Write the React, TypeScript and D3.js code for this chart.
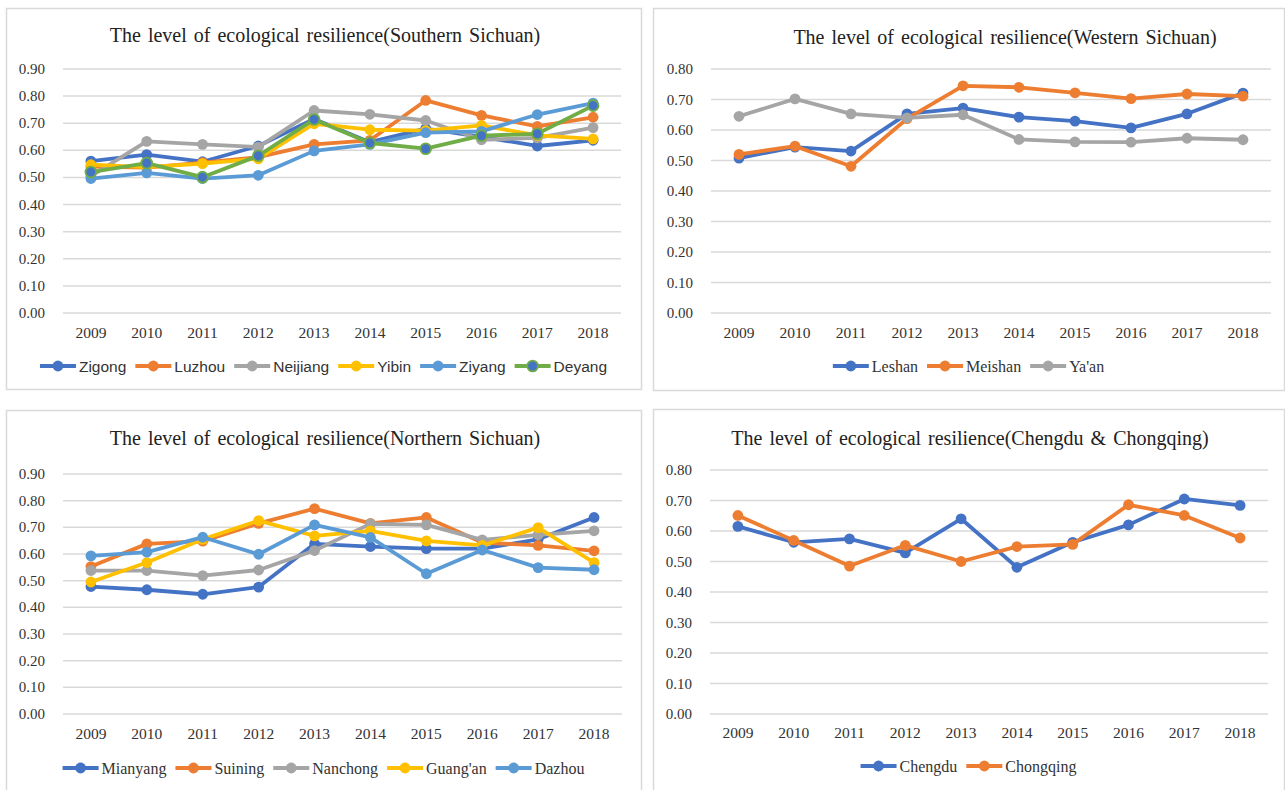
import React from 'react';
import * as d3 from 'd3';

const YEARS = ['2009', '2010', '2011', '2012', '2013', '2014', '2015', '2016', '2017', '2018'];

// Southern Sichuan
const zigong = [0.56, 0.584, 0.558, 0.616, 0.716, 0.63, 0.68, 0.65, 0.616, 0.637];
const luzhou = [0.54, 0.536, 0.555, 0.575, 0.622, 0.637, 0.784, 0.729, 0.688, 0.722];
const neijiang = [0.505, 0.633, 0.622, 0.612, 0.747, 0.733, 0.71, 0.639, 0.646, 0.684];
const yibin = [0.547, 0.538, 0.551, 0.569, 0.698, 0.676, 0.673, 0.692, 0.655, 0.642];
const ziyang = [0.496, 0.517, 0.496, 0.508, 0.598, 0.622, 0.665, 0.67, 0.732, 0.774];
const deyang = [0.52, 0.553, 0.501, 0.58, 0.714, 0.627, 0.606, 0.654, 0.661, 0.765];

// Western Sichuan
const leshan = [0.508, 0.544, 0.531, 0.653, 0.672, 0.642, 0.629, 0.607, 0.653, 0.721];
const meishan = [0.52, 0.547, 0.481, 0.637, 0.745, 0.74, 0.722, 0.703, 0.718, 0.711];
const yaan = [0.645, 0.702, 0.653, 0.64, 0.65, 0.569, 0.561, 0.56, 0.573, 0.568];

// Northern Sichuan
const mianyang = [0.478, 0.466, 0.449, 0.476, 0.638, 0.628, 0.62, 0.62, 0.655, 0.737];
const suining = [0.553, 0.638, 0.648, 0.715, 0.77, 0.715, 0.737, 0.643, 0.632, 0.612];
const nanchong = [0.538, 0.538, 0.519, 0.54, 0.613, 0.713, 0.709, 0.653, 0.672, 0.687];
const guangan = [0.495, 0.568, 0.655, 0.725, 0.668, 0.687, 0.649, 0.632, 0.699, 0.568];
const dazhou = [0.593, 0.607, 0.663, 0.599, 0.709, 0.662, 0.526, 0.615, 0.549, 0.541];

// Chengdu & Chongqing
const chengdu = [0.615, 0.563, 0.574, 0.528, 0.64, 0.481, 0.563, 0.62, 0.705, 0.684];
const chongqing = [0.651, 0.569, 0.485, 0.553, 0.5, 0.549, 0.556, 0.686, 0.651, 0.577];

const BLUE = '#4472C4';
const ORANGE = '#ED7D31';
const GRAY = '#A5A5A5';
const YELLOW = '#FFC000';
const LIGHTBLUE = '#5B9BD5';
const GREEN = '#70AD47';

const SERIF = '"Liberation Serif", "Times New Roman", serif';
const SANS = '"Liberation Sans", Arial, sans-serif';

type Series = { name: string; values: number[]; color: string; marker?: string };

type PanelProps = {
  title: string;
  box: { x: number; y: number; w: number; h: number };
  plot: { left: number; right: number; top: number; bottom: number };
  yMax: number;
  titleX: number;
  titleY: number;
  xLabelY: number;
  legendY: number;
  legendFont: string;
  legendSize: number;
  series: Series[];
};

const ctx = typeof document !== 'undefined' ? document.createElement('canvas').getContext('2d') : null;
function textWidth(t: string, font: string) {
  if (!ctx) return t.length * 8;
  ctx.font = font;
  return ctx.measureText(t).width;
}

const Panel: React.FC<PanelProps> = ({ title, box, plot, yMax, titleX, titleY, xLabelY, legendY, legendFont, legendSize, series }) => {
  const x = d3.scaleBand<string>().domain(YEARS).range([plot.left, plot.right]).padding(0);
  const y = d3.scaleLinear().domain([0, yMax]).range([plot.bottom, plot.top]);
  const ticks = d3.range(0, Math.round(yMax * 10) + 1).map(i => i / 10);
  const cx = (d: string) => (x(d) as number) + x.bandwidth() / 2;

  const line = d3.line<number>()
    .x((_, i) => cx(YEARS[i]))
    .y(d => y(d));

  // legend layout
  const lineLen = 36;
  const font = `${legendSize}px ${legendFont}`;
  const items = series.map(s => ({ s, w: lineLen + 3 + textWidth(s.name, font) }));
  const gap = 9;
  const total = d3.sum(items, d => d.w) + gap * (items.length - 1);
  let lx = box.x + box.w / 2 - total / 2;
  const legendItems = items.map(it => {
    const pos = lx;
    lx += it.w + gap;
    return { ...it, pos };
  });

  const sw = 3.8;
  const r = 5.4;

  return (
    <g>
      <rect x={box.x + 0.5} y={box.y + 0.5} width={box.w} height={box.h} fill="#fff" stroke="#D9D9D9" strokeWidth={1.5} />
      <text x={titleX} y={titleY} textAnchor="middle" dominantBaseline="central" fontFamily={SERIF} fontSize={20} fill="#222" wordSpacing={2}>
        {title}
      </text>
      {ticks.map(t => (
        <g key={t}>
          <line x1={plot.left} x2={plot.right} y1={y(t)} y2={y(t)} stroke="#D9D9D9" strokeWidth={1.5} />
          <text x={plot.left - 18} y={y(t)} textAnchor="end" dominantBaseline="central" fontFamily={SERIF} fontSize={15} fill="#333">
            {d3.format('.2f')(t)}
          </text>
        </g>
      ))}
      {YEARS.map(yr => (
        <text key={yr} x={cx(yr)} y={xLabelY} textAnchor="middle" dominantBaseline="central" fontFamily={SERIF} fontSize={15.5} fill="#333">
          {yr}
        </text>
      ))}
      {series.map(s => (
        <g key={s.name}>
          <path d={line(s.values) || ''} fill="none" stroke={s.color} strokeWidth={sw} strokeLinejoin="round" />
          {s.values.map((v, i) => (
            <circle key={i} cx={cx(YEARS[i])} cy={y(v)} r={r}
              fill={s.marker || s.color} stroke={s.color} strokeWidth={s.marker ? 1.8 : 0} />
          ))}
        </g>
      ))}
      {legendItems.map(({ s, pos }) => (
        <g key={s.name}>
          <line x1={pos} x2={pos + lineLen} y1={legendY} y2={legendY} stroke={s.color} strokeWidth={sw} />
          <circle cx={pos + lineLen / 2} cy={legendY} r={r} fill={s.marker || s.color} stroke={s.color} strokeWidth={s.marker ? 1.8 : 0} />
          <text x={pos + lineLen + 3} y={legendY} dominantBaseline="central" fontFamily={legendFont} fontSize={legendSize} fill="#333">
            {s.name}
          </text>
        </g>
      ))}
    </g>
  );
};

export default function App() {
  return (
    <svg width={1285} height={790} style={{ position: 'absolute', left: 0, top: 0, background: '#fff' }}>
      <Panel
        title="The level of ecological resilience(Southern Sichuan)"
        box={{ x: 6, y: 8, w: 635, h: 381 }}
        plot={{ left: 63, right: 621, top: 69, bottom: 313 }}
        yMax={0.9}
        titleX={325}
        titleY={35}
        xLabelY={332}
        legendY={366}
        legendFont={SANS}
        legendSize={15.5}
        series={[
          { name: 'Zigong', values: zigong, color: BLUE },
          { name: 'Luzhou', values: luzhou, color: ORANGE },
          { name: 'Neijiang', values: neijiang, color: GRAY },
          { name: 'Yibin', values: yibin, color: YELLOW },
          { name: 'Ziyang', values: ziyang, color: LIGHTBLUE },
          { name: 'Deyang', values: deyang, color: GREEN, marker: BLUE },
        ]}
      />
      <Panel
        title="The level of ecological resilience(Western Sichuan)"
        box={{ x: 653, y: 8, w: 631, h: 382 }}
        plot={{ left: 711, right: 1271, top: 69, bottom: 313 }}
        yMax={0.8}
        titleX={1005}
        titleY={37}
        xLabelY={332}
        legendY={366}
        legendFont={SERIF}
        legendSize={16}
        series={[
          { name: 'Leshan', values: leshan, color: BLUE },
          { name: 'Meishan', values: meishan, color: ORANGE },
          { name: "Ya'an", values: yaan, color: GRAY },
        ]}
      />
      <Panel
        title="The level of ecological resilience(Northern Sichuan)"
        box={{ x: 6, y: 410, w: 635, h: 390 }}
        plot={{ left: 63, right: 622, top: 474, bottom: 714 }}
        yMax={0.9}
        titleX={325}
        titleY={438}
        xLabelY={733}
        legendY={768}
        legendFont={SERIF}
        legendSize={16}
        series={[
          { name: 'Mianyang', values: mianyang, color: BLUE },
          { name: 'Suining', values: suining, color: ORANGE },
          { name: 'Nanchong', values: nanchong, color: GRAY },
          { name: "Guang'an", values: guangan, color: YELLOW },
          { name: 'Dazhou', values: dazhou, color: LIGHTBLUE },
        ]}
      />
      <Panel
        title="The level of ecological resilience(Chengdu & Chongqing)"
        box={{ x: 653, y: 409, w: 631, h: 391 }}
        plot={{ left: 710, right: 1268, top: 470, bottom: 714 }}
        yMax={0.8}
        titleX={970}
        titleY={438}
        xLabelY={732}
        legendY={766}
        legendFont={SERIF}
        legendSize={16}
        series={[
          { name: 'Chengdu', values: chengdu, color: BLUE },
          { name: 'Chongqing', values: chongqing, color: ORANGE },
        ]}
      />
    </svg>
  );
}
